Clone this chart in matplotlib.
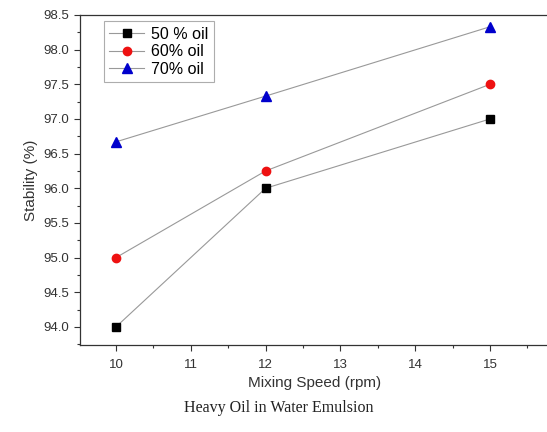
import matplotlib
matplotlib.use("Agg")
import matplotlib.pyplot as plt
from matplotlib.ticker import MultipleLocator, FormatStrFormatter

plt.rcParams["font.family"] = ["Liberation Sans", "DejaVu Sans"]

speed = [10, 12, 15]
oil50 = [94.0, 96.0, 97.0]
oil60 = [95.0, 96.25, 97.5]
oil70 = [96.67, 97.33, 98.33]
labels = ["50 % oil", "60% oil", "70% oil"]

fig = plt.figure(figsize=(5.47, 4.32), dpi=100)
x0, x1 = 9.52, 15.8
left = 80 / 547
ppu = 74.8 / 547
ax = fig.add_axes([left, 1 - 345 / 432, (x1 - x0) * ppu, (345 - 15) / 432])

ax.plot(speed, oil50, color="#999999", lw=0.8, marker="s", ms=5.5, mfc="black", mec="black", label=labels[0])
ax.plot(speed, oil60, color="#999999", lw=0.8, marker="o", ms=6, mfc="#ee1111", mec="#ee1111", label=labels[1])
ax.plot(speed, oil70, color="#999999", lw=0.8, marker="^", ms=6.5, mfc="#0000cc", mec="#0000cc", label=labels[2])

ax.set_xlim(x0, x1)
ax.set_ylim(93.74, 98.5)
ax.xaxis.set_major_locator(MultipleLocator(1))
ax.xaxis.set_minor_locator(MultipleLocator(0.5))
ax.yaxis.set_major_locator(MultipleLocator(0.5))
ax.yaxis.set_minor_locator(MultipleLocator(0.25))
ax.yaxis.set_major_formatter(FormatStrFormatter("%.1f"))
ax.tick_params(which="major", direction="out", length=4, width=0.8, labelsize=9.5, colors="#333333", labelcolor="#333333")
ax.tick_params(axis="x", which="major", pad=6)
ax.tick_params(which="minor", direction="out", length=2.5, width=0.8, colors="#333333")
ax.spines["right"].set_visible(False)
for s in ["left", "bottom", "top"]:
    ax.spines[s].set_color("#333333")
    ax.spines[s].set_linewidth(0.9)

ax.set_xlabel("Mixing Speed (rpm)", fontsize=11, color="#333333", labelpad=4)
ax.set_ylabel("Stability (%)", fontsize=11, color="#333333", labelpad=4)

leg = ax.legend(loc="upper left", bbox_to_anchor=(0.04, 0.995), fontsize=11.5, frameon=True,
                fancybox=False, edgecolor="#999999", handlelength=2.2, borderpad=0.35,
                labelspacing=0.15, borderaxespad=0.3, handletextpad=0.4)
leg.get_frame().set_linewidth(0.8)

fig.text(0.51, 1 - 408 / 432, "Heavy Oil in Water Emulsion", ha="center", va="center",
         fontsize=11.5, family="Liberation Serif", color="#222222")

fig.savefig("out.png", dpi=100)
